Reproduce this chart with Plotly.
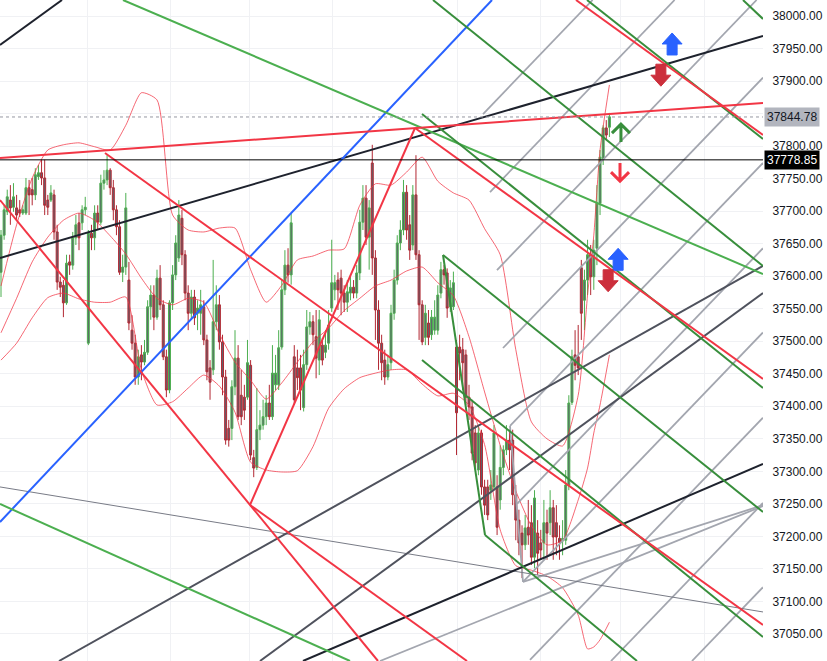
import plotly.graph_objects as go

# ---------------- candle data (bar index = position) ----------------
open_ = [37606,37663,37699,37717,37706,37705,37702,37697,37697,37736,37733,37725,37753,37759,37751,37717,37717,37725,37668,37591,
         37586,37559,37622,37617,37659,37682,37682,37702,37497,37666,37659,37697,37683,37743,37748,37763,37736,37702,37676,37606,
         37614,37594,37517,37497,37445,37479,37468,37483,37553,37571,37537,37597,37556,37476,37425,37559,37602,37628,37689,37633,
         37574,37543,37568,37543,37543,37553,37502,37459,37456,37530,37556,37499,37445,37366,37366,37430,37474,37417,37414,37414,
         37463,37321,37306,37364,37371,37384,37405,37384,37433,37433,37491,37579,37617,37602,37476,37459,37459,37398,37464,37522,
         37530,37507,37471,37494,37483,37497,37551,37579,37594,37597,37574,37560,37574,37583,37574,37605,37683,37720,37660,37774,
         37628,37548,37497,37471,37445,37467,37543,37594,37651,37671,37729,37679,37648,37725,37633,37556,37506,37528,37510,37517,
         37517,37574,37610,37605,37553,37553,37491,37491,37487,37479,37414,37399,37359,37302,37359,37276,37276,37271,37276,37276,
         37256,37306,37333,37348,37348,37264,37225,37205,37187,37214,37221,37168,37205,37190,37190,37221,37221,37244,37221,37197,
         37193,37194,37279,37406,37479,37476,37613,37563,37594,37633,37599,37643,37712,37781,37828,37829]
high = [37671,37709,37733,37740,37743,37725,37717,37709,37751,37748,37751,37766,37771,37779,37779,37725,37740,37733,37679,37599,
        37594,37633,37633,37668,37694,37697,37709,37722,37671,37679,37709,37709,37756,37763,37786,37766,37748,37709,37686,37633,
        37728,37622,37540,37510,37487,37494,37502,37563,37586,37586,37610,37617,37563,37487,37563,37617,37663,37717,37702,37640,
        37586,37579,37579,37563,37579,37563,37510,37471,37625,37586,37571,37510,37456,37379,37440,37517,37494,37456,37433,37502,
        37471,37333,37428,37394,37410,37417,37433,37494,37479,37517,37594,37640,37643,37697,37494,37487,37479,37487,37548,37545,
        37540,37548,37548,37505,37517,37548,37656,37602,37606,37610,37586,37594,37602,37594,37617,37702,37740,37740,37717,37802,
        37640,37563,37510,37487,37479,37556,37610,37663,37686,37748,37740,37694,37740,37786,37640,37563,37556,37548,37548,37563,
        37586,37622,37617,37612,37594,37607,37502,37510,37505,37487,37433,37410,37371,37371,37364,37287,37287,37302,37371,37294,
        37340,37340,37371,37364,37364,37279,37241,37217,37233,37256,37248,37271,37225,37210,37256,37241,37271,37256,37248,37217,
        37225,37302,37417,37487,37517,37525,37625,37610,37656,37648,37656,37740,37794,37832,37840,37851]
low = [37568,37656,37694,37679,37699,37686,37691,37694,37694,37694,37709,37717,37748,37740,37694,37694,37714,37656,37579,37568,
       37537,37556,37602,37610,37648,37640,37671,37694,37494,37640,37640,37671,37679,37733,37740,37725,37686,37663,37602,37591,
       37602,37517,37487,37433,37433,37440,37463,37479,37533,37517,37533,37548,37471,37414,37420,37548,37594,37622,37617,37563,
       37517,37533,37525,37517,37510,37494,37440,37410,37448,37517,37487,37417,37341,37338,37348,37417,37379,37371,37379,37410,
       37317,37291,37302,37348,37364,37371,37379,37379,37425,37425,37487,37571,37590,37587,37402,37425,37394,37392,37456,37510,
       37494,37443,37448,37463,37474,37487,37545,37563,37548,37540,37545,37545,37563,37566,37566,37594,37671,37648,37610,37602,
       37502,37456,37440,37433,37440,37456,37533,37587,37640,37663,37656,37625,37640,37625,37502,37494,37494,37494,37502,37510,
       37510,37566,37587,37536,37545,37548,37325,37440,37425,37402,37379,37317,37302,37294,37264,37233,37225,37256,37271,37202,
       37241,37294,37325,37302,37248,37194,37171,37136,37179,37187,37156,37151,37141,37164,37164,37164,37202,37164,37171,37164,
       37171,37187,37271,37402,37440,37448,37502,37517,37571,37571,37579,37617,37694,37771,37809,37814]
close = [37663,37702,37722,37705,37722,37694,37697,37702,37736,37725,37725,37756,37759,37751,37709,37706,37728,37668,37591,37583,
         37559,37620,37617,37659,37679,37659,37702,37706,37666,37659,37697,37683,37743,37748,37763,37736,37702,37676,37606,37614,
         37705,37528,37497,37445,37476,37468,37483,37553,37571,37537,37597,37556,37476,37425,37559,37602,37651,37694,37633,37574,
         37543,37568,37536,37551,37556,37502,37453,37437,37530,37556,37499,37445,37348,37348,37430,37474,37384,37384,37394,37467,
         37325,37305,37364,37371,37384,37405,37384,37451,37451,37490,37579,37617,37602,37682,37410,37444,37425,37464,37522,37530,
         37510,37474,37533,37471,37494,37525,37590,37590,37579,37574,37560,37576,37583,37574,37605,37683,37720,37660,37705,37628,
         37548,37497,37467,37445,37464,37543,37594,37651,37671,37729,37671,37640,37725,37633,37556,37499,37543,37506,37537,37537,
         37571,37610,37602,37551,37582,37590,37390,37482,37467,37414,37399,37328,37313,37359,37276,37248,37233,37279,37359,37214,
         37306,37333,37348,37333,37264,37225,37190,37187,37213,37202,37168,37259,37174,37179,37221,37205,37244,37199,37199,37191,
         37197,37279,37405,37476,37463,37459,37543,37594,37633,37599,37640,37712,37783,37828,37817,37845]
bar_index = list(range(len(close)))

# ---------------- Bollinger-style bands (sampled) ----------------
band_index = [0,5,10,15,20,25,30,35,40,45,50,55,60,65,70,75,80,85,90,95,100,105,110,115,120,125,130,135,140,145,
              150,155,160,165,170,175,180,185,188,190,192,195]
band_upper = [37585,37679,37751,37794,37802,37805,37799,37794,37832,37882,37871,37694,37671,37668,37674,37674,37610,37560,37586,37625,
              37631,37640,37642,37709,37742,37740,37760,37783,37746,37728,37717,37673,37633,37487,37376,37350,37339,37417,37571,37663,
              37794,37894]
band_mid = [37513,37566,37622,37660,37686,37697,37686,37662,37634,37597,37566,37556,37566,37560,37511,37468,37440,37411,37436,37468,
            37499,37520,37547,37566,37585,37594,37608,37614,37590,37570,37507,37422,37340,37270,37216,37187,37194,37256,37305,37359,
            37402,37479]
band_lower = [37471,37497,37536,37567,37574,37565,37560,37560,37568,37456,37402,37407,37428,37448,37431,37391,37314,37302,37299,37301,
              37338,37397,37427,37444,37451,37456,37456,37434,37416,37420,37402,37341,37210,37155,37148,37139,37121,37079,37027,37030,
              37041,37068]

# ---------------- axis values ----------------
price_ticks = [37050,37100,37150,37200,37250,37300,37350,37400,37450,37500,
               37550,37600,37650,37700,37750,37800,37850,37900,37950,38000]
hidden_tick = 37850          # covered by the last-price tag
time_grid = [27.6, 54.2, 79.8, 106.4, 146.2, 172.8, 198.4, 225.6]
last_price = 37844.78
ref_price = 37778.85
x_view = [-0.32, 244.23]
y_view = [37008.4, 38024.6]

# ---------------- drawings (bar index, price) -> (bar index, price) ----------------
red_lines = [(-0.32,37781.7,244.23,37866.3),(33.33,37789.4,244.23,37063.8),(-0.32,37717.1,120.83,37008.4),
             (79.81,37248.3,132.69,37827.8),(132.69,37827.8,244.23,37442.0),(184.29,38024.6,244.23,37817.1),
             (79.81,37248.3,149.36,37008.4)]
dkgreen_lines = [(138.46,38024.6,244.23,37615.7),(134.94,37849.3,244.23,37428.1),(141.67,37632.6,244.23,37237.5),
                 (134.94,37471.2,244.23,37045.3),(155.13,37202.1,203.85,37008.4),(141.67,37632.6,155.13,37202.1),
                 (187.82,38024.6,244.23,37810.9),(237.82,38024.6,244.23,37995.4)]
ltgreen_lines = [(39.10,38024.6,244.23,37603.4),(-0.32,37249.8,111.86,37008.4)]
black_lines = [(-0.32,37955.4,19.55,38024.6),(-0.32,37628.0,244.23,37969.3),(96.79,37008.4,244.23,37311.3)]
dkgray_lines = [(18.59,37008.4,244.23,37615.7),(83.01,37008.4,244.23,37574.2)]
thin_gray_lines = [(-0.32,37276.0,244.23,37083.8)]
blue_lines = [(-0.32,37222.1,157.37,38024.6)]
fan_lines = [(154.49,37849.3,189.62,38024.6),(156.73,37729.4,215.90,38024.6),(158.97,37609.5,242.18,38024.6),
             (160.90,37489.6,244.23,37905.3),(163.14,37369.7,244.23,37774.2),(165.38,37249.8,244.23,37643.0),
             (167.31,37129.9,244.23,37513.6),(169.55,37010.0,244.23,37382.5),(195.51,37008.4,244.23,37251.4),
             (221.47,37008.4,244.23,37121.9),(121.47,37008.4,244.23,37246.7),(167.31,37129.9,244.23,37248.0),
             (163.14,37369.7,167.31,37129.9)]

# signal arrows: (bar index, price)
blue_up = [(215.1,37957),(197.8,37626)]
red_down_block = [(211.5,37909),(194.6,37593)]
green_up_thin = [(198.7,37820)]
red_down_thin = [(198.4,37760)]

fig = go.Figure()
fig.add_trace(go.Candlestick(
    x=bar_index, open=open_, high=high, low=low, close=close,
    increasing=dict(line=dict(color='#4caf50', width=1), fillcolor='#5f626c'),
    decreasing=dict(line=dict(color='#b22833', width=1), fillcolor='#5f626c'),
    hoverinfo='skip'))
for band in (band_upper, band_mid, band_lower):
    fig.add_trace(go.Scatter(x=band_index, y=band, mode='lines',
                             line=dict(color='rgba(242,54,69,0.75)', width=1, shape='spline', smoothing=0.6),
                             hoverinfo='skip'))

shapes = []
def add_lines(lines, color, width, dash='solid'):
    for x0, y0, x1, y1 in lines:
        shapes.append(dict(type='line', xref='x', yref='y', x0=x0, y0=y0, x1=x1, y1=y1,
                           line=dict(color=color, width=width, dash=dash)))

add_lines(fan_lines, '#a3a6af', 1.8)
add_lines(thin_gray_lines, '#787b86', 1)
add_lines(dkgray_lines, '#4f525d', 2)
add_lines(black_lines, '#1e222d', 2)
add_lines(blue_lines, '#2962ff', 2)
add_lines(ltgreen_lines, '#4caf50', 2)
add_lines(dkgreen_lines, '#388e3c', 2)
add_lines(red_lines, '#f23645', 2)

shapes.append(dict(type='line', xref='paper', yref='y', x0=0, x1=1, y0=ref_price, y1=ref_price,
                   line=dict(color='#000000', width=1)))
shapes.append(dict(type='line', xref='paper', yref='y', x0=0, x1=1, y0=last_price, y1=last_price,
                   line=dict(color='#9598a1', width=1, dash='dot')))

up_block = "M -5,-11 L 5,-11 L 5,0 L 10,0 L 0,11 L -10,0 L -5,0 Z"
down_block = "M -5,11 L 5,11 L 5,0 L 10,0 L 0,-11 L -10,0 L -5,0 Z"
up_thin = "M 0,-9 L 0,9 M -9,0 L 0,9 L 9,0"
down_thin = "M 0,9 L 0,-9 M -9,0 L 0,-9 L 9,0"

def add_arrow(points, path, color, filled):
    for xa, ya in points:
        d = dict(type='path', xref='x', yref='y', xsizemode='pixel', ysizemode='pixel',
                 xanchor=xa, yanchor=ya, path=path)
        if filled:
            d.update(fillcolor=color, line=dict(color=color, width=1))
        else:
            d.update(line=dict(color=color, width=3))
        shapes.append(d)

add_arrow(blue_up, up_block, '#2962ff', True)
add_arrow(red_down_block, down_block, '#cc2f3c', True)
add_arrow(green_up_thin, up_thin, '#388e3c', False)
add_arrow(red_down_thin, down_thin, '#f23645', False)

annotations = [
    dict(xref='paper', x=1, xanchor='left', xshift=1, yref='y', y=last_price, text=f"{last_price:.2f}",
         showarrow=False, bgcolor='#b2b5be', borderpad=2,
         font=dict(family='Liberation Sans', size=12, color='#131722')),
    dict(xref='paper', x=1, xanchor='left', xshift=1, yref='y', y=ref_price, text=f"{ref_price:.2f}",
         showarrow=False, bgcolor='#000000', borderpad=2,
         font=dict(family='Liberation Sans', size=12, color='#ffffff')),
]

fig.update_layout(
    width=827, height=661, margin=dict(l=0, r=64, t=0, b=0),
    paper_bgcolor='white', plot_bgcolor='white', showlegend=False,
    boxgap=0.1, hovermode=False,
    shapes=shapes, annotations=annotations,
    xaxis=dict(range=x_view, tickvals=time_grid, showticklabels=False, showgrid=True,
               gridcolor='#f0f1f4', zeroline=False, showline=False, rangeslider=dict(visible=False)),
    yaxis=dict(side='right', range=y_view, tickvals=price_ticks,
               ticktext=["" if v == hidden_tick else f"{v:.2f}" for v in price_ticks],
               showgrid=True, gridcolor='#f0f1f4',
               zeroline=False, showline=False, ticks='outside', ticklen=6, tickcolor='rgba(0,0,0,0)',
               tickfont=dict(family='Liberation Sans', size=12, color='#131722')),
)

fig.write_html("out.html", config={'displayModeBar': False, 'staticPlot': True},
               post_script="document.body.style.margin='0';document.body.style.overflow='hidden';")
